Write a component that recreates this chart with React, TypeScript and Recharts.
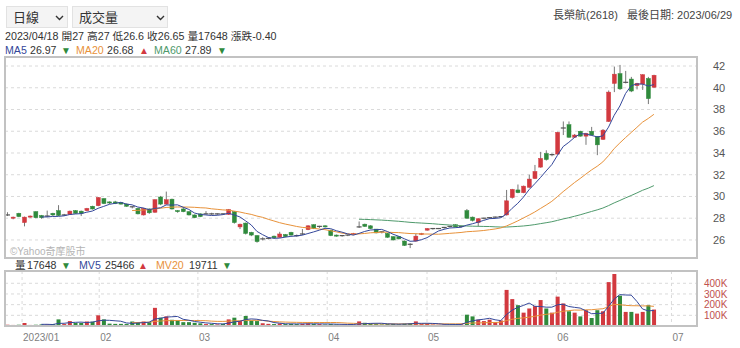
import React from 'react';
import { ComposedChart, Bar, Line, XAxis, YAxis, CartesianGrid, Cell } from 'recharts';

// daily candles, 2022/12 .. 2023/06/29 (index = trading day)
const openP = [
  28.3, 28.0, 28.45, 27.6, 28.1, 28.6, 28.25, 28.2, 28.45, 28.7,
  28.3, 28.35, 28.7, 28.65, 28.7, 29.1, 29.15, 29.8, 29.5, 29.5,
  29.45, 29.3, 29.05, 28.9, 28.3, 28.85, 28.55, 29.95, 29.3, 29.75,
  28.7, 28.85, 28.6, 28.3, 28.4, 28.4, 28.4, 28.4, 28.4, 28.35,
  28.6, 27.2, 27.55, 26.7, 26.4, 26.05, 26.15, 26.35, 26.25, 26.5,
  26.7, 26.4, 26.5, 26.95, 27.4, 27.2, 27.3, 26.9, 26.45, 26.35,
  26.4, 26.5, 27.2, 27.45, 27.3, 27.0, 26.75, 26.6, 26.3, 26.3,
  25.9, 25.6, 25.9, 26.5, 26.9, 27.0, 27.05, 27.1, 27.25, 27.4,
  27.2, 28.7, 28.1, 27.6, 27.95, 28.0, 28.05, 28.1, 28.3, 29.9,
  30.6, 30.35, 30.85, 31.65, 32.7, 33.95, 33.8, 33.9, 36.3, 36.6,
  35.45, 36.0, 35.55, 36.0, 35.5, 35.25, 36.9, 40.4, 41.3, 40.5,
  40.8, 40.2, 40.35, 40.85, 40.05,
];
const highP = [
  28.55, 28.15, 28.5, 28.15, 28.25, 28.65, 28.3, 28.7, 28.5, 29.2,
  28.4, 28.7, 28.75, 28.7, 28.95, 29.15, 29.95, 29.85, 29.55, 29.6,
  29.5, 29.35, 29.1, 28.95, 28.95, 28.9, 29.75, 30.05, 30.45, 29.8,
  28.75, 29.0, 28.65, 28.35, 28.45, 28.65, 28.5, 28.45, 28.45, 28.85,
  28.65, 27.5, 27.6, 26.75, 26.45, 26.25, 26.25, 26.4, 26.75, 26.55,
  26.75, 26.5, 27.0, 27.35, 27.45, 27.3, 27.35, 26.95, 26.5, 26.45,
  26.5, 26.65, 27.7, 27.5, 27.35, 27.0, 26.8, 26.65, 26.35, 26.35,
  25.95, 25.7, 26.6, 26.65, 27.1, 27.1, 27.1, 27.2, 27.3, 27.45,
  27.3, 28.85, 28.15, 28.0, 28.05, 28.1, 28.15, 28.2, 30.6, 30.7,
  31.1, 31.0, 32.0, 32.9, 34.1, 34.25, 33.95, 35.95, 36.9, 36.9,
  35.75, 36.05, 35.85, 36.4, 35.55, 36.2, 39.75, 41.95, 42.1, 41.55,
  41.0, 40.45, 41.25, 41.0, 41.2,
];
const lowP = [
  28.2, 27.9, 28.1, 27.25, 28.05, 28.0, 27.95, 28.1, 28.2, 28.2,
  28.2, 28.3, 28.4, 28.2, 28.65, 28.8, 29.1, 29.3, 29.3, 29.3,
  29.25, 29.05, 28.9, 28.35, 28.25, 28.4, 28.5, 29.2, 29.25, 28.8,
  28.5, 28.55, 28.25, 28.0, 28.1, 28.35, 28.3, 28.3, 28.3, 28.3,
  27.5, 27.0, 26.5, 26.35, 25.75, 25.95, 26.05, 26.1, 26.2, 26.25,
  26.4, 26.3, 26.45, 26.9, 27.0, 27.1, 27.15, 26.35, 26.3, 26.3,
  26.35, 26.45, 27.1, 27.2, 27.0, 26.6, 26.6, 26.2, 25.95, 26.05,
  25.45, 25.25, 25.85, 26.45, 26.85, 26.95, 27.0, 27.05, 27.15, 27.15,
  27.15, 27.95, 27.7, 27.25, 27.9, 27.95, 28.0, 28.05, 28.25, 29.8,
  30.3, 30.3, 30.8, 31.6, 32.65, 33.3, 33.7, 33.85, 35.65, 35.4,
  35.4, 35.5, 34.75, 35.6, 33.8, 35.2, 36.85, 39.6, 39.8, 40.4,
  39.6, 39.85, 39.8, 38.5, 40.0,
];
const closeP = [
  28.3, 28.1, 28.15, 28.1, 28.2, 28.05, 28.05, 28.2, 28.3, 28.25,
  28.3, 28.65, 28.45, 28.45, 28.9, 28.85, 29.9, 29.35, 29.4, 29.35,
  29.3, 29.1, 29.0, 28.4, 28.9, 28.5, 29.7, 29.3, 29.7, 28.85,
  28.6, 28.6, 28.3, 28.05, 28.15, 28.4, 28.35, 28.4, 28.35, 28.8,
  27.6, 27.45, 26.6, 26.45, 25.85, 26.1, 26.15, 26.2, 26.55, 26.3,
  26.45, 26.35, 26.55, 27.3, 27.05, 27.25, 27.2, 26.4, 26.35, 26.4,
  26.45, 26.6, 27.2, 27.25, 27.05, 26.65, 26.7, 26.25, 26.0, 26.1,
  25.5, 25.55, 26.35, 26.6, 27.05, 27.05, 27.05, 27.15, 27.2, 27.2,
  27.25, 28.0, 27.8, 27.95, 28.0, 28.05, 28.1, 28.15, 29.6, 30.65,
  30.35, 30.95, 31.6, 32.3, 33.5, 33.4, 33.85, 35.9, 36.3, 35.45,
  35.65, 35.55, 35.8, 35.65, 34.75, 36.1, 39.6, 41.25, 39.9, 40.5,
  39.7, 40.4, 41.2, 39.0, 41.15,
];
// 成交量 (張)
const volume = [
  12000, 10000, 12000, 28000, 10000, 12000, 15000, 14000, 18000, 62000,
  18000, 46000, 28000, 28000, 42000, 40000, 100000, 62000, 22000, 20000,
  20000, 20000, 42000, 36000, 42000, 36000, 170000, 78000, 90000, 58000,
  52000, 36000, 36000, 30000, 25000, 18000, 18000, 15000, 20000, 62000,
  78000, 46000, 94000, 52000, 46000, 25000, 20000, 18000, 24000, 18000,
  20000, 18000, 20000, 24000, 20000, 18000, 14000, 18000, 15000, 12000,
  12000, 14000, 43000, 30000, 22000, 17648, 15000, 18000, 20000, 16000,
  22000, 25000, 43000, 18000, 20000, 14000, 12000, 14000, 15000, 16000,
  16000, 106000, 90000, 59000, 46000, 59000, 37000, 52000, 338000, 252000,
  195000, 125000, 164000, 186000, 243000, 164000, 125000, 275000, 211000, 138000,
  125000, 90000, 148000, 75000, 148000, 138000, 411000, 487000, 284000, 132000,
  132000, 116000, 132000, 195000, 154000,
];

const priceTicks = [26, 28, 30, 32, 34, 36, 38, 40, 42];
const volTicks = [100000, 200000, 300000, 400000];
// month boundaries on the trading-day axis
const monthTicks = [2.6, 16.2, 33.6, 56.4, 74.0, 96.8, 117.1];
const monthLabels = ['2023/01', '02', '03', '04', '05', '06', '07'];

const X_DOMAIN: [number, number] = [-0.41, 121.6];
const PRICE_DOMAIN: [number, number] = [24.34, 42.83];
const VOL_DOMAIN: [number, number] = [0, 515000];

const RED = '#d2393f';
const GREEN = '#2f8a3c';
const BLUE = '#34479a';
const ORANGE = '#e8923a';
const TEAL = '#4f9a6c';
const FONT = '"Liberation Sans", Arial, "Noto Sans CJK TC", sans-serif';

// moving average; the line is only drawn from index `from`
function sma(src: number[], n: number, from: number) {
  return src.map((_, i) => {
    if (i < Math.max(n - 1, from)) return null;
    let s = 0;
    for (let k = i - n + 1; k <= i; k++) s += src[k];
    return s / n;
  });
}

const ma5 = sma(closeP, 5, 6);
const ma20 = sma(closeP, 20, 22);
const ma60 = sma(closeP, 60, 62);
const mv5 = sma(volume, 5, 6);
const mv20 = sma(volume, 20, 22);

const rows = closeP.map((c, i) => ({
  i,
  range: [lowP[i], highP[i]],
  o: openP[i],
  h: highP[i],
  l: lowP[i],
  c,
  ma5: ma5[i],
  ma20: ma20[i],
  ma60: ma60[i],
  vol: volume[i],
  mv5: mv5[i],
  mv20: mv20[i],
}));

function Candle(props: any) {
  const { x, y, width, height, payload } = props;
  if (x == null || y == null) return null;
  const top = Math.min(y, y + height);
  const h = Math.abs(height);
  const { o, c, h: hi, l: lo } = payload;
  const span = hi - lo;
  const yOf = (v: number) => (span === 0 ? top : top + ((hi - v) / span) * h);
  const cx = x + width / 2;
  const bTop = yOf(Math.max(o, c));
  const bBot = yOf(Math.min(o, c));
  const color = c > o ? RED : c < o ? GREEN : '#555';
  return (
    <g>
      <line x1={cx} x2={cx} y1={top} y2={top + h} stroke="#777" strokeWidth={1} />
      {bBot - bTop < 1 ? (
        <line x1={x - 0.5} x2={x + width + 0.5} y1={bTop} y2={bTop} stroke="#555" strokeWidth={1.2} />
      ) : (
        <rect x={x} y={bTop} width={width} height={bBot - bTop} fill={color} stroke={color} strokeWidth={0.5} />
      )}
    </g>
  );
}

function MonthTick(props: any) {
  const { x, y, payload } = props;
  const idx = monthTicks.indexOf(payload.value);
  return (
    <text x={x + 1} y={y} dy="0.71em" textAnchor="start" fill="#808080" fontSize={10} fontFamily={FONT}>
      {monthLabels[idx]}
    </text>
  );
}

const abs = (left: number, top: number, extra: React.CSSProperties = {}): React.CSSProperties => ({
  position: 'absolute',
  left,
  top,
  whiteSpace: 'nowrap',
  lineHeight: '13px',
  ...extra,
});

function Chevron({ left }: { left: number }) {
  return (
    <svg style={abs(left, 8)} width={9} height={6} viewBox="0 0 9 6">
      <polyline points="1,1 4.5,4.5 8,1" fill="none" stroke="#333" strokeWidth={1.4} />
    </svg>
  );
}

// legend rows: [text, colour, left]
type Item = [string, string, number];
const maItems: Item[] = [
  ['MA5', BLUE, 5], ['26.97', '#333', 30], ['▼', GREEN, 61],
  ['MA20', ORANGE, 76], ['26.68', '#333', 107], ['▲', RED, 139],
  ['MA60', TEAL, 154], ['27.89', '#333', 185], ['▼', GREEN, 217],
];
const volItems: Item[] = [
  ['量', '#333', 15], ['17648', '#333', 27], ['▼', GREEN, 61],
  ['MV5', BLUE, 79], ['25466', '#333', 105], ['▲', RED, 138],
  ['MV20', ORANGE, 156], ['19711', '#333', 189], ['▼', GREEN, 222],
];

function LegendRow({ items, top }: { items: Item[]; top: number }) {
  return (
    <>
      {items.map(([t, col, left], k) => {
        const tri = t === '▼' || t === '▲';
        return (
          <span key={k} style={abs(left, tri ? top + 1 : top, { fontSize: tri ? 10 : 10.6, color: col, lineHeight: tri ? '12px' : '13px' })}>
            {t}
          </span>
        );
      })}
    </>
  );
}

export default function App() {
  return (
    <div style={{ position: 'absolute', left: 0, top: 0, width: 740, height: 348, background: '#fff', fontFamily: FONT, color: '#333', overflow: 'hidden' }}>
      {/* selects */}
      <div style={abs(6, 6, { width: 62, height: 22, background: '#f4f4f4', border: '1px solid #e2e2e2', boxSizing: 'border-box' })}>
        <span style={abs(6, 3, { fontSize: 13, lineHeight: '15px' })}>日線</span>
        <Chevron left={48} />
      </div>
      <div style={abs(72, 6, { width: 96, height: 22, background: '#f4f4f4', border: '1px solid #e2e2e2', boxSizing: 'border-box' })}>
        <span style={abs(6, 3, { fontSize: 13, lineHeight: '15px' })}>成交量</span>
        <Chevron left={83} />
      </div>
      <div style={abs(553, 9, { fontSize: 11, color: '#444' })}>長榮航(2618)&nbsp;&nbsp;&nbsp;最後日期: 2023/06/29</div>

      {/* info lines */}
      <div style={abs(5, 30, { fontSize: 10.7, color: '#333' })}>2023/04/18 開27 高27 低26.6 收26.65 量17648 漲跌-0.40</div>
      <LegendRow items={maItems} top={44} />

      {/* price panel */}
      <div style={abs(5, 57)}>
        <ComposedChart width={735} height={201} data={rows} margin={{ top: 0, right: 0, bottom: 0, left: 0 }}>
          <CartesianGrid stroke="#dadada" strokeDasharray="3 3" />
          <XAxis dataKey="i" type="number" domain={X_DOMAIN} ticks={monthTicks} height={0} tick={false} axisLine={false} tickLine={false} allowDataOverflow />
          <YAxis orientation="right" domain={PRICE_DOMAIN} ticks={priceTicks} width={43} axisLine={false} tickLine={false} tickMargin={10} interval={0} allowDataOverflow tick={{ fill: '#555', fontSize: 11, fontFamily: FONT }} />
          <Bar dataKey="range" barSize={4} shape={(p: any) => <Candle {...p} />} isAnimationActive={false} />
          <Line dataKey="ma60" stroke={TEAL} strokeWidth={1} dot={false} isAnimationActive={false} />
          <Line dataKey="ma20" stroke={ORANGE} strokeWidth={1} dot={false} isAnimationActive={false} />
          <Line dataKey="ma5" stroke={BLUE} strokeWidth={1} dot={false} isAnimationActive={false} />
        </ComposedChart>
      </div>
      <div style={abs(4, 56, { width: 694, height: 203, border: '2px solid #c2c2c2', boxSizing: 'border-box' })} />
      <div style={abs(10, 245, { fontSize: 10, color: '#b5b5b5' })}>©Yahoo奇摩股市</div>

      {/* volume legend */}
      <LegendRow items={volItems} top={259} />

      {/* volume panel */}
      <div style={abs(5, 271)}>
        <ComposedChart width={735} height={77} data={rows} margin={{ top: 0, right: 0, bottom: 0, left: 0 }}>
          <CartesianGrid stroke="#dadada" strokeDasharray="3 3" />
          <XAxis dataKey="i" type="number" domain={X_DOMAIN} ticks={monthTicks} height={22} axisLine={false} tickLine={false} interval={0} allowDataOverflow tick={<MonthTick />} />
          <YAxis orientation="right" domain={VOL_DOMAIN} ticks={volTicks} width={43} axisLine={false} tickLine={false} tickMargin={1} interval={0} allowDataOverflow tickFormatter={(v: number) => `${v / 1000}K`} tick={{ fill: '#c0504d', fontSize: 10, fontFamily: FONT }} />
          <Bar dataKey="vol" barSize={4} isAnimationActive={false}>
            {rows.map((r) => (
              <Cell key={r.i} fill={r.c >= r.o ? RED : GREEN} />
            ))}
          </Bar>
          <Line dataKey="mv20" stroke={ORANGE} strokeWidth={1} dot={false} isAnimationActive={false} />
          <Line dataKey="mv5" stroke={BLUE} strokeWidth={1} dot={false} isAnimationActive={false} />
        </ComposedChart>
      </div>
      <div style={abs(4, 270, { width: 694, height: 57, border: '2px solid #c2c2c2', boxSizing: 'border-box' })} />
    </div>
  );
}
